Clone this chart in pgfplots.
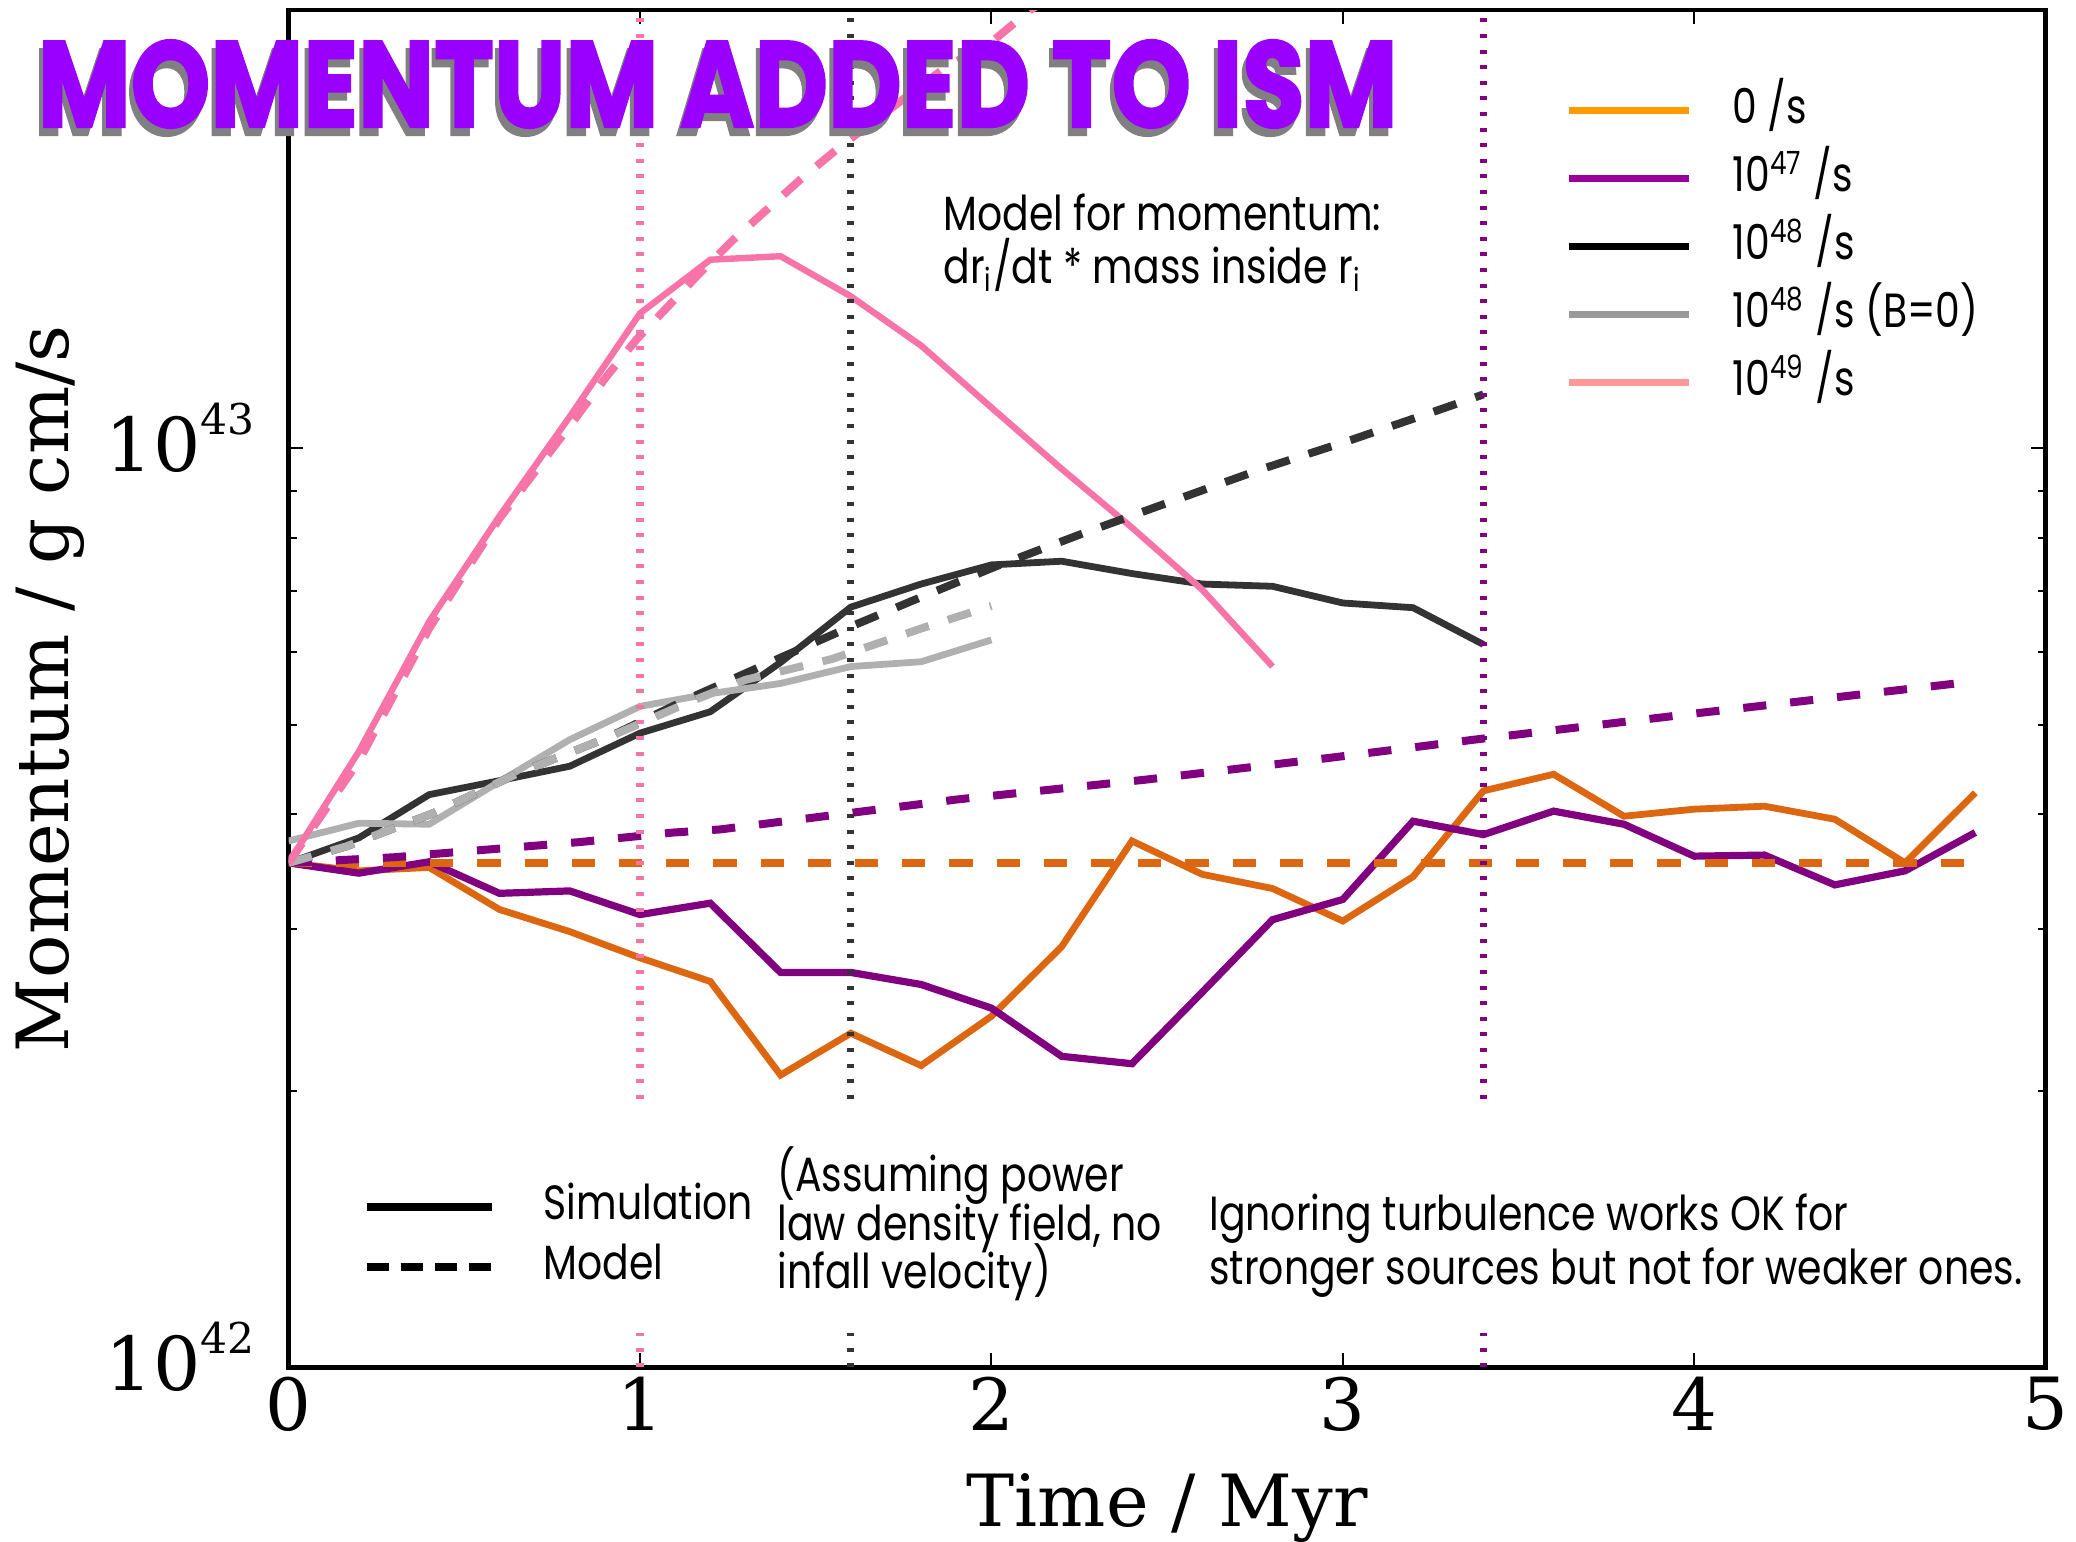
\documentclass[border=0pt]{standalone}
\usepackage{fontspec}
\usepackage{graphicx}
\usepackage{pgfplots}
\pgfplotsset{compat=1.18}
\newfontfamily\dvserif{DejaVu Serif}
\newfontfamily\annfont{Poppins}[FakeStretch=0.82]
\newfontfamily\titlefont{Poppins}[BoldFeatures={FakeBold=2}]

\definecolor{cOrange}{RGB}{221,102,17}
\definecolor{cPurple}{RGB}{128,0,128}
\definecolor{cBlack}{RGB}{51,51,51}
\definecolor{cGrey}{RGB}{176,176,176}
\definecolor{cPink}{RGB}{246,116,168}
\definecolor{lOrange}{RGB}{255,153,0}
\definecolor{lPurple}{RGB}{153,0,153}
\definecolor{lGrey}{RGB}{153,153,153}
\definecolor{lPink}{RGB}{255,153,153}
\definecolor{tPurple}{RGB}{153,0,255}
\definecolor{tShadow}{RGB}{128,128,128}

\newcommand{\annsize}{\annfont\fontsize{12}{14}\selectfont}
\newcommand{\tsup}[1]{\raisebox{9.3pt}{\fontsize{10.6}{12}\selectfont #1}}
\newcommand{\titletext}{\titlefont\bfseries\fontsize{30.5}{32}\selectfont\scalebox{0.83}[1]{MOMENTUM ADDED TO ISM}}

\begin{document}
\begin{tikzpicture}
\useasboundingbox (-72.15pt,-43.3pt) rectangle (446.85pt,341.95pt);
\begin{axis}[
  at={(0pt,0pt)}, anchor=south west,
  scale only axis, width=439.25pt, height=339.3pt,
  ymode=log, xmin=0, xmax=5, ymin=1e42, ymax=3e43,
  xtick={0,1,2,3,4,5}, xticklabels={0,1,2,3,4,5},
  ytick={1e42,1e43}, yticklabels={{10\tsup{42}},{10\tsup{43}}},
  tick align=inside, major tick length=3.6pt, minor tick length=2pt,
  tick style={black, line width=0.5pt},
  axis line style={line width=1.2pt},
  tick label style={font=\dvserif\fontsize{18}{20}\selectfont},
  yticklabel style={font=\dvserif\fontsize{18.6}{20}\selectfont, yshift=2.6pt, xshift=-5pt},
  xticklabel style={yshift=1.2pt},
  label style={font=\dvserif\fontsize{18}{20}\selectfont},
  xlabel={Time / Myr}, ylabel={Momentum / g cm/s},
  xlabel style={at={(axis description cs:0.5,-0.1172)}, anchor=base},
  ylabel style={at={(axis description cs:-0.125,0.5)}, anchor=base},
  legend cell align=left,
  legend style={draw=none, fill=none, inner sep=0pt, at={(0.7263,0.9464)}, anchor=north west,
    row sep=4pt, column sep=10.1pt, cells={anchor=base west},
    nodes={inner sep=0pt, text height=10pt, text depth=3pt, font=\annsize}},
  legend image code/.code={\draw[#1] (0pt,3.3pt) -- (30pt,3.3pt);},
]
% ---- simulations (solid)
\addplot[cOrange, line width=1.7pt, forget plot] coordinates {
(0,3.54e42) (0.2,3.47e42) (0.4,3.50e42) (0.6,3.15e42) (0.8,2.98e42) (1.0,2.79e42)
(1.2,2.63e42) (1.4,2.08e42) (1.6,2.31e42) (1.8,2.13e42) (2.0,2.41e42) (2.2,2.87e42)
(2.4,3.74e42) (2.6,3.44e42) (2.8,3.32e42) (3.0,3.06e42) (3.2,3.42e42) (3.4,4.24e42)
(3.6,4.42e42) (3.8,3.98e42) (4.0,4.05e42) (4.2,4.08e42) (4.4,3.95e42) (4.6,3.54e42)
(4.8,4.22e42)};
\addplot[cPurple, line width=1.8pt, forget plot] coordinates {
(0,3.54e42) (0.2,3.45e42) (0.4,3.55e42) (0.6,3.28e42) (0.8,3.30e42) (1.0,3.11e42)
(1.2,3.20e42) (1.4,2.69e42) (1.6,2.69e42) (1.8,2.61e42) (2.0,2.46e42) (2.2,2.18e42)
(2.4,2.14e42) (2.6,2.56e42) (2.8,3.07e42) (3.0,3.23e42) (3.2,3.93e42) (3.4,3.80e42)
(3.6,4.03e42) (3.8,3.90e42) (4.0,3.60e42) (4.2,3.61e42) (4.4,3.35e42) (4.6,3.47e42)
(4.8,3.82e42)};
\addplot[cBlack, line width=1.7pt, forget plot] coordinates {
(0,3.54e42) (0.2,3.77e42) (0.4,4.20e42) (0.6,4.35e42) (0.8,4.51e42) (1.0,4.90e42)
(1.2,5.17e42) (1.4,5.85e42) (1.6,6.72e42) (1.8,7.12e42) (2.0,7.47e42) (2.2,7.54e42)
(2.4,7.31e42) (2.6,7.12e42) (2.8,7.08e42) (3.0,6.79e42) (3.2,6.71e42) (3.4,6.12e42)};
\addplot[cGrey, line width=1.7pt, forget plot] coordinates {
(0,3.74e42) (0.2,3.91e42) (0.4,3.90e42) (0.6,4.34e42) (0.8,4.82e42) (1.0,5.24e42)
(1.2,5.41e42) (1.4,5.55e42) (1.6,5.79e42) (1.8,5.86e42) (2.0,6.19e42)};
\addplot[cPink, line width=1.6pt, forget plot] coordinates {
(0,3.54e42) (0.2,4.68e42) (0.4,6.48e42) (0.6,8.44e42) (0.8,10.83e42) (1.0,14.03e42)
(1.2,16.05e42) (1.4,16.19e42) (1.6,14.64e42) (1.8,12.94e42) (2.0,11.08e42) (2.2,9.5e42)
(2.4,8.2e42) (2.6,7.02e42) (2.8,5.79e42)};
% ---- models (dashed)
\addplot[cOrange, line width=2pt, dash pattern=on 5.8pt off 6pt, forget plot] coordinates {
(0,3.54e42) (4.8,3.54e42)};
\addplot[cPurple, line width=2pt, dash pattern=on 5.8pt off 6pt, forget plot] coordinates {
(0,3.54e42) (0.298,3.59e42) (0.564,3.66e42) (0.829,3.73e42) (1.095,3.82e42) (1.228,3.85e42)
(1.903,4.15e42) (2.437,4.36e42) (2.971,4.61e42) (3.373,4.82e42) (4.007,5.15e42) (4.8,5.58e42)};
\addplot[cBlack, line width=2pt, dash pattern=on 6pt off 5pt, forget plot] coordinates {
(0,3.54e42) (0.165,3.69e42) (0.412,4.01e42) (0.658,4.44e42) (0.905,4.84e42) (1.142,5.35e42)
(1.4,5.92e42) (1.6,6.40e42) (1.772,6.82e42) (2.012,7.44e42) (2.263,8.09e42) (2.513,8.76e42)
(2.763,9.48e42) (3.025,10.22e42) (3.275,11.02e42) (3.4,11.45e42)};
\addplot[cGrey, line width=2pt, dash pattern=on 6pt off 5pt, forget plot] coordinates {
(0,3.54e42) (0.165,3.69e42) (0.412,4.01e42) (0.658,4.44e42) (0.905,4.84e42) (1.142,5.30e42)
(1.3,5.60e42) (1.546,5.90e42) (1.811,6.39e42) (1.941,6.63e42) (2.0,6.74e42)};
\addplot[cPink, line width=2pt, dash pattern=on 6pt off 5pt, forget plot] coordinates {
(0,3.54e42) (0.2,4.57e42) (0.4,6.37e42) (0.6,8.39e42) (0.8,10.58e42) (0.905,11.98e42)
(0.99,13.14e42) (1.171,15.53e42) (1.266,16.88e42) (1.351,18.05e42) (1.455,19.6e42)
(1.569,21.3e42) (1.873,26.05e42) (1.996,27.6e42) (2.11,30.0e42) (2.2,31.5e42)};
% ---- vertical dotted markers
\addplot[cPink, line width=1.8pt, dash pattern=on 1pt off 2.9pt, forget plot] coordinates {(1,1.96e42) (1,3e43)};
\addplot[cPink, line width=1.8pt, dash pattern=on 1pt off 2.9pt, forget plot] coordinates {(1,1e42) (1,1.09e42)};
\addplot[cBlack, line width=1.8pt, dash pattern=on 1pt off 2.9pt, forget plot] coordinates {(1.6,1.96e42) (1.6,3e43)};
\addplot[cBlack, line width=1.8pt, dash pattern=on 1pt off 2.9pt, forget plot] coordinates {(1.6,1e42) (1.6,1.09e42)};
\addplot[cPurple, line width=1.8pt, dash pattern=on 1pt off 2.9pt, forget plot] coordinates {(3.4,1.96e42) (3.4,3e43)};
\addplot[cPurple, line width=1.8pt, dash pattern=on 1pt off 2.9pt, forget plot] coordinates {(3.4,1e42) (3.4,1.09e42)};
% ---- legend
\addlegendimage{lOrange, line width=1.7pt}
\addlegendentry{0 /s}
\addlegendimage{lPurple, line width=1.7pt}
\addlegendentry{10\textsuperscript{47} /s}
\addlegendimage{black, line width=1.7pt}
\addlegendentry{10\textsuperscript{48} /s}
\addlegendimage{lGrey, line width=1.7pt}
\addlegendentry{10\textsuperscript{48} /s (B=0)}
\addlegendimage{lPink, line width=1.7pt}
\addlegendentry{10\textsuperscript{49} /s}
\end{axis}
\begin{axis}[
  at={(0pt,0pt)}, anchor=south west,
  scale only axis, width=439.25pt, height=339.3pt,
  hide axis, xmin=0, xmax=1, ymin=0, ymax=1,
  legend cell align=left,
  legend style={draw=none, fill=none, inner sep=0pt, at={(0.0417,0.1396)}, anchor=north west,
    row sep=2pt, column sep=12pt, cells={anchor=base west},
    nodes={inner sep=0pt, text height=10pt, text depth=3pt, font=\annsize}},
  legend image code/.code={\draw[#1] (0pt,3pt) -- (31.3pt,3pt);},
]
\addlegendimage{black, line width=2pt}
\addlegendentry{Simulation}
\addlegendimage{black, line width=2pt, dash pattern=on 5.7pt off 2.8pt}
\addlegendentry{Model}
\end{axis}
% ---- annotations
\begin{scope}[every node/.style={anchor=base west, inner sep=0pt, font=\annsize}]
\node at (163.5pt,284.4pt) {Model for momentum:};
\node at (163.5pt,271.1pt) {dr\textsubscript{i}/dt * mass inside r\textsubscript{i}};
\node at (122pt,44.0pt) {(Assuming power};
\node at (122pt,31.9pt) {law density field, no};
\node at (122pt,19.8pt) {infall velocity)};
\node at (230pt,34.3pt) {Ignoring turbulence works OK for};
\node at (230pt,20.7pt) {stronger sources but not for weaker ones.};
\end{scope}
% ---- title with shadow (one node)
\node[anchor=base west, inner sep=0pt] at (-62.9pt,310.2pt)
  {\makebox[0pt][l]{\hspace*{-1pt}\raisebox{-2pt}{\color{tShadow}\titletext}}\color{tPurple}\titletext};
\end{tikzpicture}
\end{document}
